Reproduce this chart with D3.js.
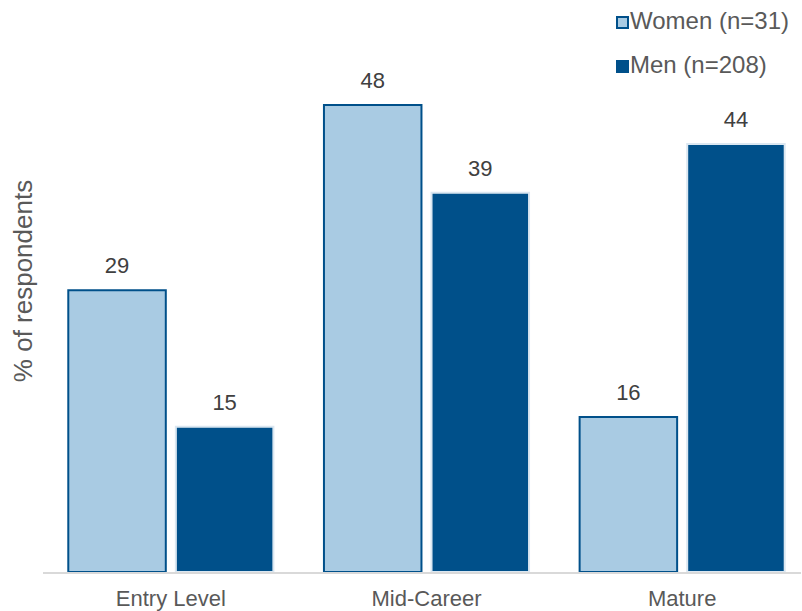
<!DOCTYPE html>
<html><head><meta charset="utf-8">
<script src="https://cdn.jsdelivr.net/npm/d3@7"></script>
<style>body{margin:0;background:#fff;}svg{display:block;font-family:"Liberation Sans",Arial,sans-serif;}</style>
</head><body><svg id="c" width="802" height="611"></svg>
<script>
const categories = ["Entry Level", "Mid-Career", "Mature"];
const seriesNames = ["Women (n=31)", "Men (n=208)"];
const women = [29, 48, 16];
const men = [15, 39, 44];
const yTitle = "% of respondents";

const fills = ["#a9cbe3", "#00508a"];
const strokes = ["#00508a", "#dbe7f1"];
const svg = d3.select("#c");
const base = 572, plotTop = 104;
const y = d3.scaleLinear().domain([0, 48]).range([base, plotTop]);
const x0 = d3.scaleBand().domain(categories).range([43, 810]).paddingInner(0.19).paddingOuter(0.095);
const x1 = d3.scaleBand().domain(seriesNames).range([0, x0.bandwidth()]).paddingInner(0.075);

const data = categories.map((c, i) => ({c, vals: [women[i], men[i]]}));
const g = svg.append("g");
data.forEach(d => {
  d.vals.forEach((v, s) => {
    const bx = x0(d.c) + x1(seriesNames[s]);
    g.append("rect").attr("x", bx + 1).attr("y", y(v) + 1)
      .attr("width", x1.bandwidth() - 2).attr("height", base - y(v) - 1)
      .attr("fill", fills[s]).attr("stroke", strokes[s]).attr("stroke-width", 2);
    g.append("text").attr("x", bx + x1.bandwidth() / 2).attr("y", y(v) - 16)
      .attr("text-anchor", "middle").attr("font-size", 22).attr("fill", "#404040").text(v);
  });
});
svg.append("line").attr("x1", 43).attr("x2", 801).attr("y1", base + 1).attr("y2", base + 1)
  .attr("stroke", "#d9d9d9").attr("stroke-width", 2);
categories.forEach(c => {
  svg.append("text").attr("x", x0(c) + x0.bandwidth() / 2).attr("y", 606)
    .attr("text-anchor", "middle").attr("font-size", 22).attr("fill", "#595959").text(c);
});
svg.append("text").attr("transform", "translate(32,281) rotate(-90)")
  .attr("text-anchor", "middle").attr("font-size", 26).attr("fill", "#595959").text(yTitle);
seriesNames.forEach((n, i) => {
  const ly = 16 + i * 44;
  svg.append("rect").attr("x", 617).attr("y", ly + 1).attr("width", 11).attr("height", 11)
    .attr("fill", fills[i]).attr("stroke", "#00508a").attr("stroke-width", 2);
  svg.append("text").attr("x", 630).attr("y", ly + 13).attr("font-size", 24).attr("fill", "#595959").text(n);
});
</script></body></html>
